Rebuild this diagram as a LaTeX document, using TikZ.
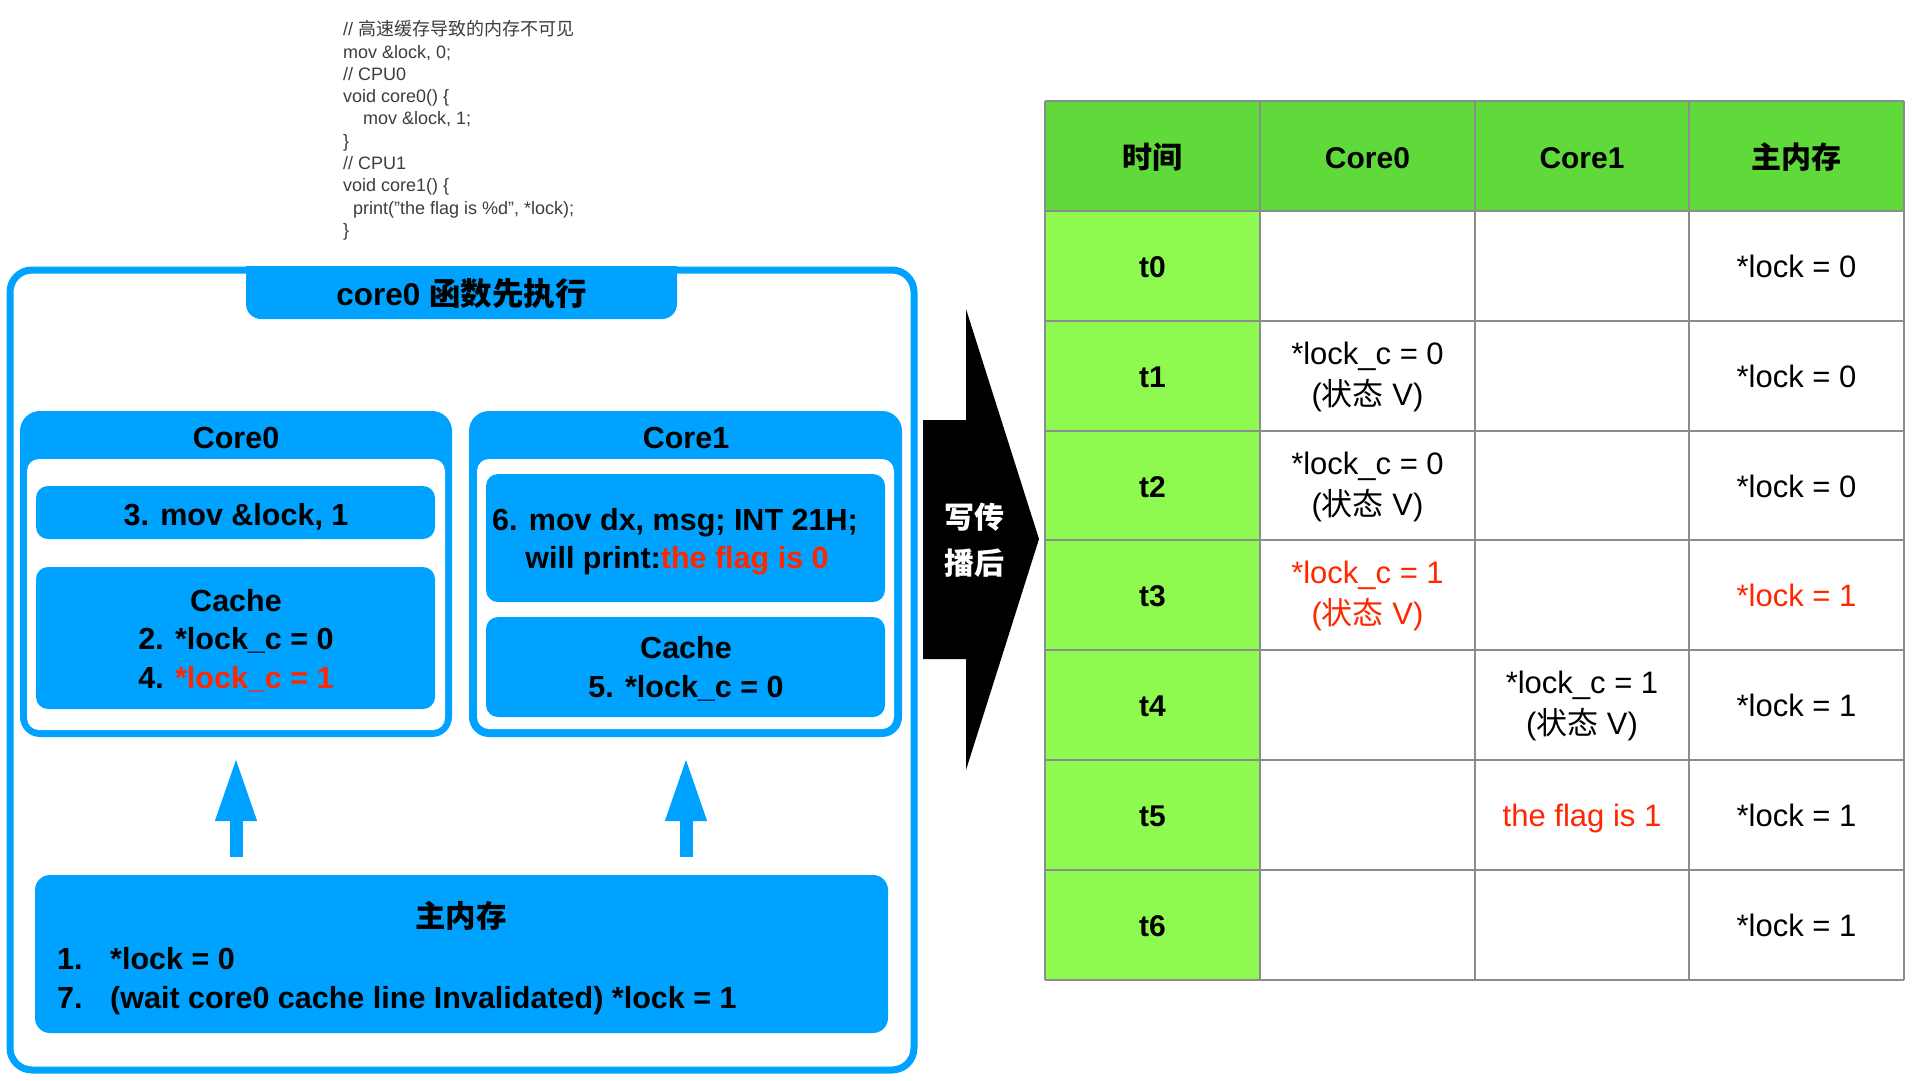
\documentclass[tikz,border=0pt]{standalone}
\usepackage{fontspec}
\setmainfont{Liberation Sans}
\newfontfamily\cjk{Noto Sans CJK SC}
\usetikzlibrary{arrows.meta}
\definecolor{ablue}{RGB}{0,162,255}
\definecolor{ared}{RGB}{255,38,0}
\definecolor{hgreen}{RGB}{96,217,58}
\definecolor{cgreen}{RGB}{142,250,80}
\definecolor{gridgray}{RGB}{140,140,140}
\definecolor{codegray}{RGB}{60,60,60}
\begin{document}
\begin{tikzpicture}[x=1pt,y=-1pt,
  bx/.style={anchor=base,inner sep=0pt,font=\fontsize{30.5}{36}\selectfont\bfseries},
  tr/.style={anchor=base,inner sep=0pt,font=\fontsize{31}{36}\selectfont},
  tb/.style={anchor=base,inner sep=0pt,font=\fontsize{30}{36}\selectfont\bfseries},
  codeline/.style={anchor=base west,inner sep=0pt,font=\fontsize{18}{22}\selectfont,text=codegray},
  bluebox/.style={fill=ablue,rounded corners=12pt},
  upar/.style={draw=ablue,line width=13pt,-{Triangle[width=38pt,length=64pt]}},
  gridline/.style={draw=gridgray,line width=1.3pt}]
\useasboundingbox (0,0) rectangle (1920,1080);

% ---------- code ----------
\node[codeline] (l0) at (343,35.7) {// {\cjk 高速缓存导致的内存不可见}};
\node[codeline] (l1) at (343,58) {mov \&lock, 0;};
\node[codeline] (l2) at (343,80.3) {// CPU0};
\node[codeline] (l3) at (343,102.6) {void core0() \{};
\node[codeline] (l4) at (363,124.9) {mov \&lock, 1;};
\node[codeline] (l5) at (343,147.2) {\}};
\node[codeline] (l6) at (343,169.5) {// CPU1};
\node[codeline] (l7) at (343,191.8) {void core1() \{};
\node[codeline] (l8) at (353,214.1) {print("the flag is \%d", *lock);};
\node[codeline] (l9) at (343,236.4) {\}};

% ---------- outer frame ----------
\draw[ablue,line width=7pt,rounded corners=22pt] (10,270) rectangle (914,1070);
\begin{scope}
  \clip (0,266) rectangle (1000,400);
  \fill[ablue,rounded corners=15pt] (246,230) rectangle (677,319);
\end{scope}
\node[bx,font=\fontsize{31.5}{36}\selectfont\bfseries] (title) at (461.5,305) {core0 {\cjk 函数先执行}};

% ---------- core boxes ----------
\fill[ablue,rounded corners=20pt] (20,411) rectangle (452,737);
\fill[white,rounded corners=12pt] (27,459) rectangle (445,730);
\fill[ablue,rounded corners=20pt] (469,411) rectangle (902,737);
\fill[white,rounded corners=12pt] (477,459) rectangle (894,729);
\node[bx] (core0) at (236,448) {Core0};
\node[bx] (core1) at (686,448) {Core1};

\fill[bluebox] (36,486) rectangle (435,539);
\node[bx] (mov0) at (236,525) {3. mov \&lock, 1};
\fill[bluebox] (36,567) rectangle (435,709);
\node[bx] (c0a) at (236,611) {Cache};
\node[bx] (c0b) at (236,649) {2. *lock\_c = 0};
\node[bx] (c0c) at (236,688) {4. \textcolor{ared}{*lock\_c = 1}};

\fill[bluebox] (486,474) rectangle (885,602);
\node[bx] (m1a) at (675,530) {6. mov dx, msg; INT 21H;};
\node[bx] (m1b) at (677,568) {will print:\textcolor{ared}{the flag is 0}};
\fill[bluebox] (486,617) rectangle (885,717);
\node[bx] (c1a) at (686,658) {Cache};
\node[bx] (c1b) at (686,697) {5. *lock\_c = 0};

% ---------- main memory ----------
\fill[ablue,rounded corners=15pt] (35,875) rectangle (888,1033);
\node[bx] (mem) at (461,927) {\cjk 主内存};
\node[bx,anchor=base west] (n1) at (57,969) {1.};
\node[bx,anchor=base west] (n1t) at (110,969) {*lock = 0};
\node[bx,anchor=base west] (n7) at (57,1008) {7.};
\node[bx,anchor=base west] (n7t) at (110,1008) {(wait core0 cache line Invalidated) *lock = 1};

% ---------- up arrows ----------
\coordinate (a0s) at (236,857); \coordinate (a0e) at (236,757);
\coordinate (a1s) at (686,857); \coordinate (a1e) at (686,757);
\draw[upar] (a0s) -- (a0e);
\draw[upar] (a1s) -- (a1e);

% ---------- black arrow ----------
\fill[black] (923,420) -- (966,420) -- (966,309) -- (1039,539) -- (966,770) -- (966,659) -- (923,659) -- cycle;
\node[text=white,align=center,inner sep=0pt,font=\cjk\fontsize{30}{46}\selectfont\bfseries] (wb) at (974,540) {写传\\播后};

% ---------- table ----------
\fill[hgreen] (1045,101) rectangle (1904,211);
\fill[cgreen] (1045,211) rectangle (1260,980);
\foreach \y in {101,211,321,431,540,650,760,870,980} \draw[gridline] (1045,\y) -- (1904,\y);
\foreach \x in {1045,1260,1475,1689,1904} \draw[gridline] (\x,101) -- (\x,980);

\node[tb] (h0) at (1152.5,168) {\cjk 时间};
\node[tb] (h1) at (1367.5,168) {Core0};
\node[tb] (h2) at (1582,168) {Core1};
\node[tb] (h3) at (1796.5,168) {\cjk 主内存};

\node[tb] (t0) at (1152.5,277) {t0};
\node[tb] (t1) at (1152.5,387) {t1};
\node[tb] (t2) at (1152.5,497) {t2};
\node[tb] (t3) at (1152.5,606) {t3};
\node[tb] (t4) at (1152.5,716) {t4};
\node[tb] (t5) at (1152.5,826) {t5};
\node[tb] (t6) at (1152.5,936) {t6};

\node[tr] (m0) at (1796.5,277) {*lock = 0};
\node[tr] (m1) at (1796.5,387) {*lock = 0};
\node[tr] (m2) at (1796.5,497) {*lock = 0};
\node[tr,text=ared] (m3) at (1796.5,606) {*lock = 1};
\node[tr] (m4) at (1796.5,716) {*lock = 1};
\node[tr] (m5) at (1796.5,826) {*lock = 1};
\node[tr] (m6) at (1796.5,936) {*lock = 1};

\node[tr] (a1) at (1367.5,364) {*lock\_c = 0};
\node[tr] (b1) at (1367.5,405) {({\cjk 状态} V)};
\node[tr] (a2) at (1367.5,474) {*lock\_c = 0};
\node[tr] (b2) at (1367.5,515) {({\cjk 状态} V)};
\node[tr,text=ared] (a3) at (1367.5,583) {*lock\_c = 1};
\node[tr,text=ared] (b3) at (1367.5,624) {({\cjk 状态} V)};
\node[tr] (a4) at (1582,693) {*lock\_c = 1};
\node[tr] (b4) at (1582,734) {({\cjk 状态} V)};
\node[tr,text=ared] (f5) at (1582,826) {the flag is 1};
\end{tikzpicture}
\end{document}
